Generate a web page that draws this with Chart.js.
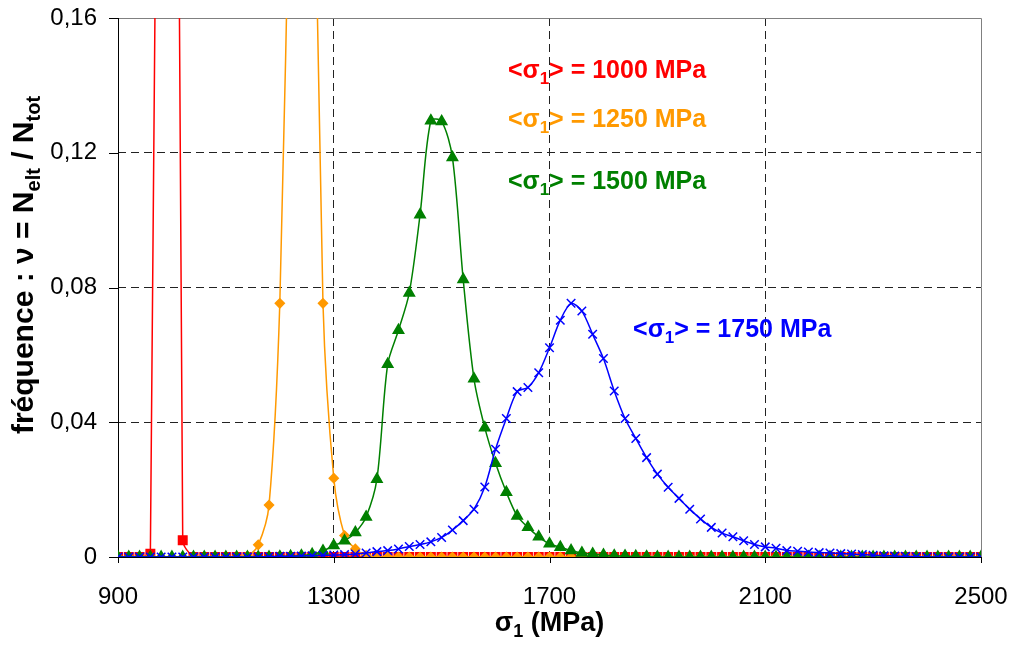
<!DOCTYPE html>
<html lang="fr">
<head>
<meta charset="utf-8">
<title>Distribution de σ1</title>
<script src="https://cdn.jsdelivr.net/npm/chart.js@4.4.1/dist/chart.umd.min.js"></script>
<style>
    html, body { margin: 0; padding: 0; background: #fff; }
    #wrap { width: 1013px; height: 646px; }
</style>
</head>
<body>
<div id="wrap"><canvas id="freqChart" width="1013" height="646"></canvas></div>
<script>
// Contrainte principale σ1 (MPa), pas de 20 MPa
const sigma = [
    900, 920, 940, 960, 980, 1000, 1020, 1040, 1060, 1080,
    1100, 1120, 1140, 1160, 1180, 1200, 1220, 1240, 1260, 1280,
    1300, 1320, 1340, 1360, 1380, 1400, 1420, 1440, 1460, 1480,
    1500, 1520, 1540, 1560, 1580, 1600, 1620, 1640, 1660, 1680,
    1700, 1720, 1740, 1760, 1780, 1800, 1820, 1840, 1860, 1880,
    1900, 1920, 1940, 1960, 1980, 2000, 2020, 2040, 2060, 2080,
    2100, 2120, 2140, 2160, 2180, 2200, 2220, 2240, 2260, 2280,
    2300, 2320, 2340, 2360, 2380, 2400, 2420, 2440, 2460, 2480,
    2500
];

// Fréquences ν = Nelt / Ntot pour chaque <σ1>
const nu1000 = [
    0, 0, 0, 0.001, 0.42, 0.57, 0.005, 0, 0, 0,
    0, 0, 0, 0, 0, 0, 0, 0, 0, 0,
    0, 0, 0, 0, 0, 0, 0, 0, 0, 0,
    0, 0, 0, 0, 0, 0, 0, 0, 0, 0,
    0, 0, 0, 0, 0, 0, 0, 0, 0, 0,
    0, 0, 0, 0, 0, 0, 0, 0, 0, 0,
    0, 0, 0, 0, 0, 0, 0, 0, 0, 0,
    0, 0, 0, 0, 0, 0, 0, 0, 0, 0,
    0
];
const nu1250 = [
    0, 0, 0, 0, 0, 0, 0, 0, 0, 0,
    0, 0, 0.0003, 0.0036, 0.0154, 0.0753, 0.22, 0.34, 0.25, 0.0753,
    0.0234, 0.0064, 0.0024, 0.0005, 0, 0, 0, 0, 0, 0,
    0, 0, 0, 0, 0, 0, 0, 0, 0, 0,
    0, 0, 0, 0, 0, 0, 0, 0, 0, 0,
    0, 0, 0, 0, 0, 0, 0, 0, 0, 0,
    0, 0, 0, 0, 0, 0, 0, 0, 0, 0,
    0, 0, 0, 0, 0, 0, 0, 0, 0, 0,
    0
];
const nu1500 = [
    0, 0, 0, 0, 0, 0, 0, 0, 0, 0,
    0, 0, 0, 0, 0, 0.0001, 0.0002, 0.0004, 0.0008, 0.0018,
    0.0034, 0.0048, 0.0073, 0.0119, 0.0231, 0.0572, 0.0673, 0.0784, 0.1016, 0.1295,
    0.1293, 0.1186, 0.0824, 0.0529, 0.0384, 0.0278, 0.0192, 0.0122, 0.0088, 0.006,
    0.0039, 0.0029, 0.0019, 0.0012, 0.0009, 0.0006, 0.0004, 0.0003, 0.0002, 0.0001,
    0, 0, 0, 0, 0, 0, 0, 0, 0, 0,
    0, 0, 0, 0, 0, 0, 0, 0, 0, 0,
    0, 0, 0, 0, 0, 0, 0, 0, 0, 0,
    0
];
const nu1750 = [
    0, 0, 0, 0, 0, 0, 0, 0, 0, 0,
    0, 0, 0, 0, 0.0001, 0.0002, 0.0002, 0.0003, 0.0004, 0.0005,
    0.0006, 0.0007, 0.0009, 0.0012, 0.0016, 0.0019, 0.0024, 0.0031, 0.0037, 0.0045,
    0.0058, 0.008, 0.0108, 0.0142, 0.0208, 0.032, 0.0411, 0.0491, 0.0503, 0.0547,
    0.0621, 0.0703, 0.0753, 0.073, 0.0661, 0.0589, 0.0493, 0.0411, 0.0352, 0.0295,
    0.0246, 0.0207, 0.0174, 0.0142, 0.0113, 0.0088, 0.0071, 0.006, 0.0048, 0.0037,
    0.003, 0.0026, 0.0019, 0.0017, 0.0015, 0.0013, 0.0012, 0.001, 0.0009, 0.0007,
    0.0005, 0.0004, 0.0003, 0.0002, 0.0001, 0, 0, 0, 0, 0,
    0
];

// Valeurs moyennes <σ1> affichées sur le graphique
const meanValues = ['1000', '1250', '1500', '1750'];

// Graduations
const xTicks = [900, 1300, 1700, 2100, 2500];
const xTickLabels = ['900', '1300', '1700', '2100', '2500'];
const yTicks = [0, 0.04, 0.08, 0.12, 0.16];
const yTickLabels = ['0', '0,04', '0,08', '0,12', '0,16'];

const FONT = '"Liberation Sans", Arial, sans-serif';
const GRID_DASH = [8, 5];

/**
 * Écrit un texte avec des indices (parts = [{t, sub}])
 */
function drawRich(ctx, parts, x, y, size, align) {
    const subSize = Math.round(size * 0.66);
    let total = 0;
    parts.forEach(p => {
        ctx.font = 'bold ' + (p.sub ? subSize : size) + 'px ' + FONT;
        total += ctx.measureText(p.t).width;
    });
    let cx = align === 'center' ? x - total / 2 : x;
    ctx.textAlign = 'left';
    ctx.textBaseline = 'alphabetic';
    parts.forEach(p => {
        ctx.font = 'bold ' + (p.sub ? subSize : size) + 'px ' + FONT;
        ctx.fillText(p.t, cx, y + (p.sub ? size * 0.24 : 0));
        cx += ctx.measureText(p.t).width;
    });
}

/**
 * Cadre de la zone de tracé (gauche/bas noirs, haut/droite gris) et petites graduations
 */
const framePlugin = {
    id: 'frame',
    beforeDatasetsDraw(chart) {
        const { ctx, chartArea: a, scales } = chart;
        ctx.save();
        ctx.lineWidth = 1;
        ctx.strokeStyle = '#808080';
        ctx.beginPath();
        ctx.moveTo(a.left, a.top + 0.5);
        ctx.lineTo(a.right + 0.5, a.top + 0.5);
        ctx.lineTo(a.right + 0.5, a.bottom);
        ctx.stroke();

        ctx.strokeStyle = '#000';
        ctx.beginPath();
        ctx.moveTo(a.left + 0.5, a.top);
        ctx.lineTo(a.left + 0.5, a.bottom + 0.5);
        ctx.lineTo(a.right, a.bottom + 0.5);
        // graduations y (vers la gauche)
        yTicks.forEach(v => {
            const py = Math.round(scales.y.getPixelForValue(v)) + 0.5;
            ctx.moveTo(a.left - 9, py);
            ctx.lineTo(a.left + 0.5, py);
        });
        // graduations x (vers le bas)
        xTicks.forEach(v => {
            const px = Math.round(scales.x.getPixelForValue(v)) + 0.5;
            ctx.moveTo(px, a.bottom);
            ctx.lineTo(px, a.bottom + 6);
        });
        ctx.stroke();
        ctx.restore();
    }
};

/**
 * Titres des axes et étiquettes <σ1> = ... MPa
 */
const labelPlugin = {
    id: 'labels',
    afterDatasetsDraw(chart, args, opts) {
        const { ctx, scales } = chart;
        ctx.save();

        // étiquettes des séries
        opts.notes.forEach(n => {
            ctx.fillStyle = n.color;
            const px = scales.x.getPixelForValue(n.x);
            const py = scales.y.getPixelForValue(n.y);
            drawRich(ctx, [
                { t: '<σ' }, { t: '1', sub: true }, { t: '> = ' + n.value + ' MPa' }
            ], px, py, 25, 'left');
        });

        // titre de l'axe x
        ctx.fillStyle = '#000';
        drawRich(ctx, [{ t: 'σ' }, { t: '1', sub: true }, { t: ' (MPa)' }],
            (chart.chartArea.left + chart.chartArea.right) / 2, 631, 27, 'center');

        // titre de l'axe y (vertical)
        ctx.translate(33, 265);
        ctx.rotate(-Math.PI / 2);
        drawRich(ctx, [
            { t: 'fréquence : ν = N' }, { t: 'elt', sub: true },
            { t: ' / N' }, { t: 'tot', sub: true }
        ], 0, 0, 30, 'center');

        ctx.restore();
    }
};

function makeSeries(values, color, style, radius, order) {
    return {
        data: sigma.map((s, i) => ({ x: s, y: values[i] })),
        borderColor: color,
        backgroundColor: color,
        borderWidth: 1.5,
        pointStyle: style,
        pointRadius: radius,
        pointBorderWidth: 1.5,
        pointBackgroundColor: color,
        pointBorderColor: color,
        tension: 0.3,
        order: order
    };
}

const ctx = document.getElementById('freqChart').getContext('2d');
const freqChart = new Chart(ctx, {
    type: 'line',
    data: {
        datasets: [
            makeSeries(nu1000, '#FF0000', 'rect', 6, 3),
            makeSeries(nu1250, '#FF9900', 'rectRot', 4.5, 2),
            makeSeries(nu1500, '#008000', 'triangle', 6, 1),
            makeSeries(nu1750, '#0000FF', 'crossRot', 6, 0)
        ]
    },
    options: {
        responsive: false,
        animation: false,
        layout: { padding: { top: 18, right: 32, left: 0, bottom: 0 } },
        plugins: {
            legend: { display: false },
            tooltip: { enabled: false },
            labels: {
                notes: [
                    { value: meanValues[0], color: '#FF0000', x: 1623, y: 0.1422 },
                    { value: meanValues[1], color: '#FF9900', x: 1623, y: 0.1276 },
                    { value: meanValues[2], color: '#008000', x: 1623, y: 0.1093 },
                    { value: meanValues[3], color: '#0000FF', x: 1855, y: 0.0652 }
                ]
            }
        },
        scales: {
            x: {
                type: 'linear',
                min: 900,
                max: 2500,
                afterBuildTicks: scale => { scale.ticks = xTicks.map(v => ({ value: v })); },
                afterFit: scale => { scale.height = 89; },
                ticks: {
                    color: '#000',
                    font: { family: FONT, size: 24 },
                    padding: 0,
                    maxRotation: 0,
                    callback: (v, i) => xTickLabels[i]
                },
                grid: {
                    color: c => (c.tick && (c.tick.value === 900 || c.tick.value === 2500)) ? 'rgba(0,0,0,0)' : '#222',
                    borderDash: GRID_DASH,
                    tickColor: 'rgba(0,0,0,0)',
                    tickLength: 26,
                    tickBorderDash: []
                },
                border: { display: false, dash: GRID_DASH }
            },
            y: {
                type: 'linear',
                min: 0,
                max: 0.16,
                afterBuildTicks: scale => { scale.ticks = yTicks.map(v => ({ value: v })); },
                afterFit: scale => { scale.width = 118; },
                ticks: {
                    color: '#000',
                    font: { family: FONT, size: 24 },
                    padding: 0,
                    callback: (v, i) => yTickLabels[i]
                },
                grid: {
                    color: c => (c.tick && (c.tick.value === 0 || c.tick.value === 0.16)) ? 'rgba(0,0,0,0)' : '#222',
                    borderDash: GRID_DASH,
                    tickColor: 'rgba(0,0,0,0)',
                    tickLength: 21,
                    tickBorderDash: []
                },
                border: { display: false, dash: GRID_DASH }
            }
        }
    },
    plugins: [framePlugin, labelPlugin]
});
</script>
</body>
</html>
